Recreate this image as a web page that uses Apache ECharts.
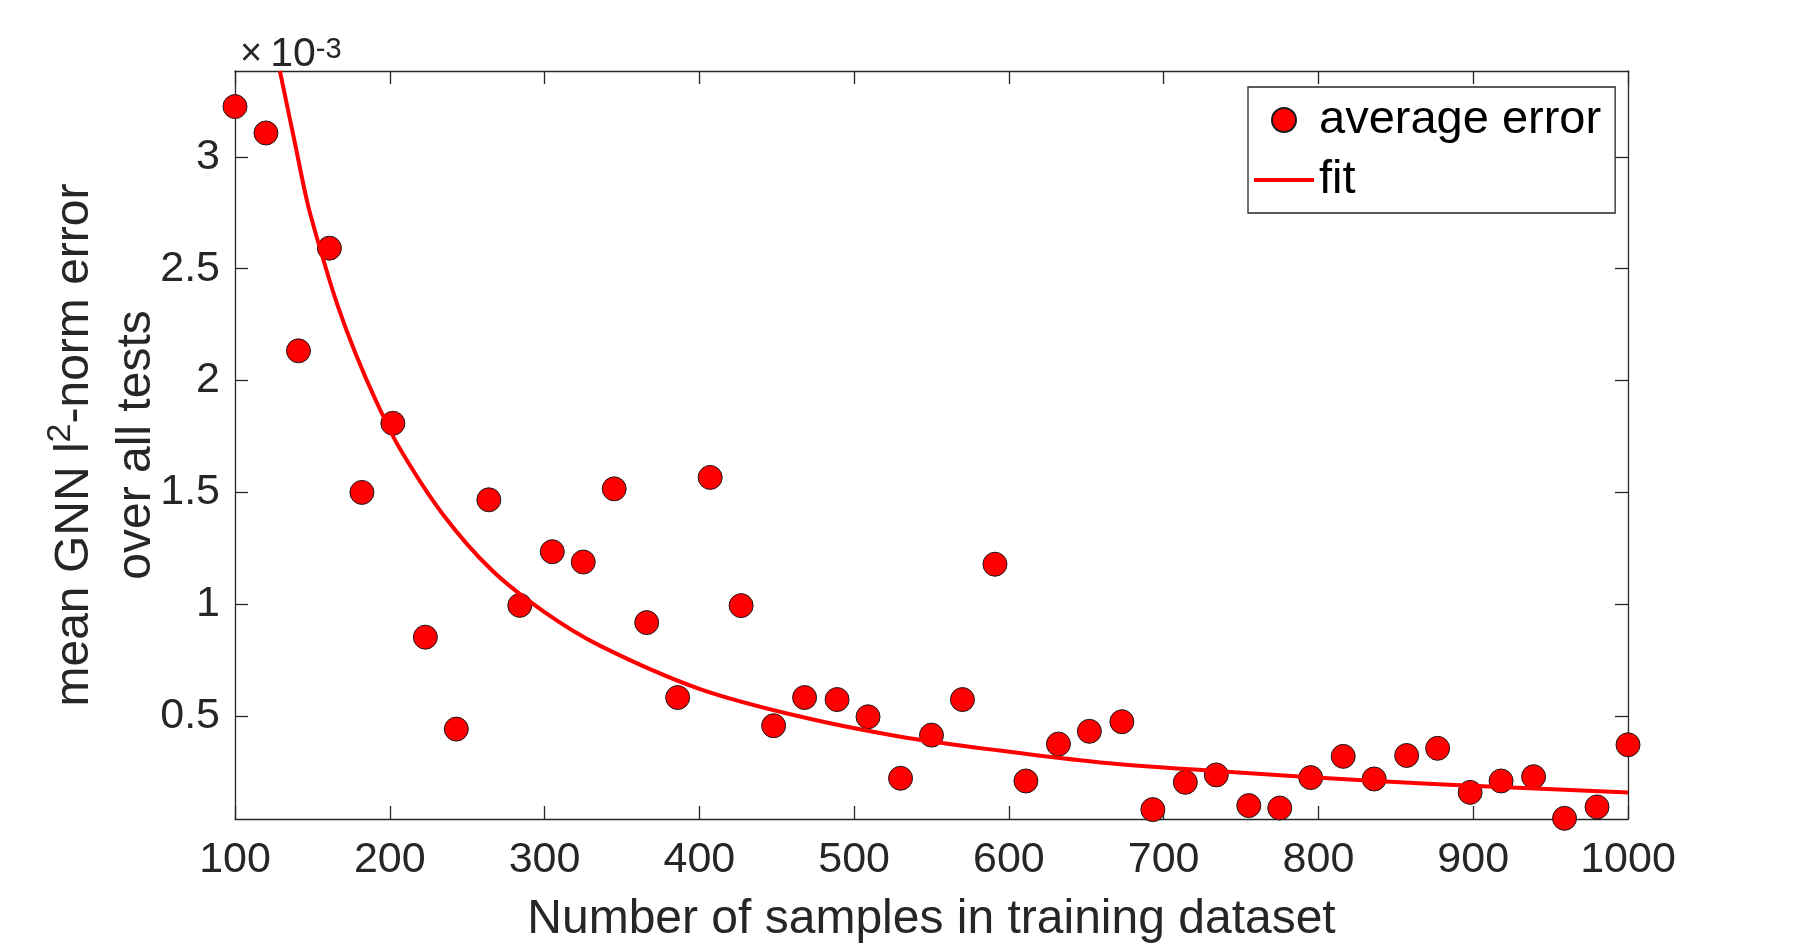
<!DOCTYPE html>
<html>
<head>
    <meta charset="utf-8">
    <title>GNN error vs samples</title>
    <script src="https://cdn.jsdelivr.net/npm/echarts@6/dist/echarts.min.js"></script>
    <style>
        html, body { margin: 0; padding: 0; background: #fff; }
    </style>
</head>
<body>
    <div id="main" style="width: 1800px;height:949px;"></div>

    <script type="text/javascript">
    // samples in training dataset
    var samples = [100, 120, 141, 161, 182, 202, 223, 243, 264, 284, 305, 325, 345, 366, 386,
                   407, 427, 448, 468, 489, 509, 530, 550, 570, 591, 611, 632, 652, 673, 693,
                   714, 734, 755, 775, 795, 816, 836, 857, 877, 898, 918, 939, 959, 980, 1000];
    // average error, in units of 1e-3
    var avgError = [3.225, 3.107, 2.133, 2.592, 1.500, 1.809, 0.853, 0.442, 1.467, 0.995, 1.235, 1.189, 1.516, 0.918, 0.583,
                    1.567, 0.994, 0.457, 0.583, 0.574, 0.497, 0.222, 0.415, 0.574, 1.179, 0.210, 0.375, 0.432, 0.475, 0.082,
                    0.204, 0.237, 0.100, 0.089, 0.225, 0.320, 0.219, 0.324, 0.356, 0.159, 0.210, 0.229, 0.043, 0.094, 0.372];
    // fitted curve (1e-3)
    var fitX = [129, 138, 147, 156, 166, 178, 192, 206, 234, 266, 300, 336, 400, 465, 530, 594, 659, 746, 834, 921, 1000];
    var fitY = [3.384, 3.086, 2.789, 2.566, 2.342, 2.119, 1.896, 1.702, 1.405, 1.152, 0.965, 0.814, 0.622, 0.498, 0.408, 0.346, 0.293, 0.249, 0.211, 0.182, 0.159];
    var xTicks = [100, 200, 300, 400, 500, 600, 700, 800, 900, 1000];
    var yTicks = [0.5, 1, 1.5, 2, 2.5, 3];

    var axisColor = '#262626';
    var font = 'Liberation Sans, Arial, Helvetica, sans-serif';

    function pairs(xs, ys) {
        var res = [];
        for (var i = 0; i < xs.length; i++) {
            res.push([xs[i], ys[i]]);
        }
        return res;
    }

    var myChart = echarts.init(document.getElementById('main'));

    var xBase = {
        type: 'value',
        min: xTicks[0],
        max: xTicks[xTicks.length - 1],
        interval: 100,
        axisLine: { show: true, lineStyle: { color: axisColor, width: 1.3 } },
        axisTick: { show: true, inside: true, length: 13, lineStyle: { color: axisColor, width: 1.3 } },
        splitLine: { show: false }
    };
    var yBase = {
        type: 'value',
        min: 0.04,
        max: 3.384,
        axisLine: { show: true, lineStyle: { color: axisColor, width: 1.3 } },
        axisTick: { show: true, inside: true, length: 13, customValues: yTicks, lineStyle: { color: axisColor, width: 1.3 } },
        splitLine: { show: false }
    };

    var option = {
        backgroundColor: '#fff',
        animation: false,
        textStyle: { fontFamily: font },
        title: {
            left: 240,
            top: 35,
            padding: 0,
            text: '{x|×}{n|10}{s|-3}',
            textStyle: {
                fontWeight: 'normal',
                rich: {
                    x: { fontFamily: font, fontSize: 38, fontWeight: 'normal', color: axisColor, lineHeight: 40, padding: [0, 8, 0, 0] },
                    n: { fontFamily: font, fontSize: 41, fontWeight: 'normal', color: axisColor, lineHeight: 40 },
                    s: { fontFamily: font, fontSize: 29, fontWeight: 'normal', color: axisColor, lineHeight: 12, verticalAlign: 'top' }
                }
            }
        },
        grid: { left: 235, right: 172, top: 71, bottom: 129, containLabel: false },
        legend: {
            orient: 'vertical',
            left: 1248,
            top: 87,
            padding: [8, 14, 8, 6],
            itemGap: 10,
            itemWidth: 60,
            itemHeight: 24,
            backgroundColor: '#fff',
            borderColor: axisColor,
            borderWidth: 1.3,
            borderRadius: 0,
            textStyle: { fontFamily: font, fontSize: 47, color: '#000', lineHeight: 50 },
            data: [
                { name: 'average error', icon: 'circle' },
                { name: 'fit', icon: 'path://M0,0 L60,0 L60,4 L0,4 Z' }
            ]
        },
        xAxis: [
            echarts.util.merge({
                position: 'bottom',
                name: 'Number of samples in training dataset',
                nameLocation: 'middle',
                nameGap: 77,
                nameMoveOverlap: false,
                nameTextStyle: { fontFamily: font, fontSize: 48, color: axisColor },
                axisLabel: { show: true, margin: 20, fontSize: 43, fontFamily: font, color: axisColor,
                             showMinLabel: true, showMaxLabel: true,
                             formatter: function (v) { return String(v); } }
            }, xBase, true),
            echarts.util.merge({ position: 'top', axisLabel: { show: false } }, xBase, true)
        ],
        yAxis: [
            echarts.util.merge({
                position: 'left',
                name: '{t|mean GNN l}{s|2}{t|-norm error}\n{t|over all tests}',
                nameLocation: 'middle',
                nameRotate: 90,
                nameGap: 67,
                nameMoveOverlap: false,
                nameTextStyle: {
                    rich: {
                        t: { fontFamily: font, fontSize: 48, color: axisColor, lineHeight: 62 },
                        s: { fontFamily: font, fontSize: 34, color: axisColor, lineHeight: 20, verticalAlign: 'top' }
                    }
                },
                axisLabel: { show: true, margin: 15, fontSize: 43, fontFamily: font, color: axisColor,
                             customValues: yTicks }
            }, yBase, true),
            echarts.util.merge({ position: 'right', axisLabel: { show: false } }, yBase, true)
        ],
        series: [
            {
                name: 'average error',
                type: 'scatter',
                xAxisIndex: 0,
                yAxisIndex: 0,
                symbol: 'circle',
                symbolSize: 24,
                itemStyle: { color: '#ff0000', borderColor: '#1a1a1a', borderWidth: 1, opacity: 1 },
                data: pairs(samples, avgError),
                z: 2
            },
            {
                name: 'fit',
                type: 'line',
                xAxisIndex: 0,
                yAxisIndex: 0,
                smooth: 0.3,
                symbol: 'none',
                showSymbol: false,
                clip: true,
                lineStyle: { color: '#ff0000', width: 4 },
                itemStyle: { color: '#ff0000' },
                data: pairs(fitX, fitY),
                z: 3
            }
        ]
    };

    myChart.setOption(option);
    </script>
</body>
</html>
